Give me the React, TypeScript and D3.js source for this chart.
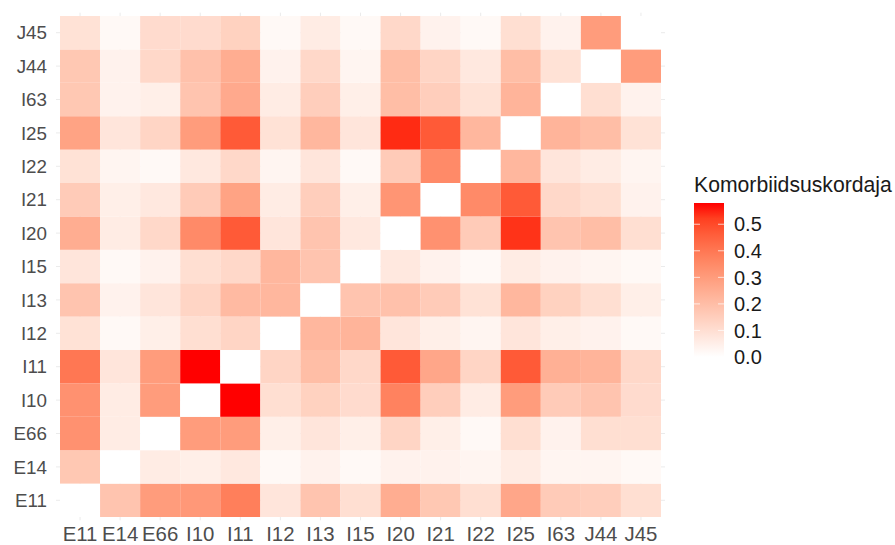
import React from "react";
import * as d3 from "d3";

// Diagnosis codes, used for both axes (x left→right, y bottom→top)
const codes = ["E11", "E14", "E66", "I10", "I11", "I12", "I13", "I15", "I20", "I21", "I22", "I25", "I63", "J44", "J45"];

// Comorbidity rates: one row per y-code, columns in the order of `codes`
const rowE11 = [0, 0.18, 0.3, 0.31, 0.38, 0.08, 0.18, 0.1, 0.25, 0.17, 0.1, 0.27, 0.16, 0.15, 0.1];
const rowE14 = [0.17, 0, 0.06, 0.05, 0.07, 0.02, 0.04, 0.02, 0.04, 0.04, 0.03, 0.06, 0.03, 0.03, 0.02];
const rowE66 = [0.33, 0.06, 0, 0.3, 0.3, 0.05, 0.08, 0.05, 0.13, 0.05, 0.02, 0.1, 0.04, 0.1, 0.1];
const rowI10 = [0.33, 0.06, 0.3, 0, 0.58, 0.1, 0.14, 0.11, 0.37, 0.15, 0.06, 0.3, 0.16, 0.18, 0.11];
const rowI11 = [0.4, 0.08, 0.3, 0.58, 0, 0.13, 0.2, 0.12, 0.47, 0.27, 0.13, 0.47, 0.24, 0.23, 0.12];
const rowI12 = [0.09, 0.02, 0.05, 0.1, 0.13, 0, 0.22, 0.23, 0.08, 0.05, 0.03, 0.08, 0.05, 0.04, 0.02];
const rowI13 = [0.18, 0.04, 0.08, 0.13, 0.21, 0.22, 0, 0.18, 0.19, 0.16, 0.09, 0.22, 0.14, 0.1, 0.05];
const rowI15 = [0.08, 0.02, 0.04, 0.1, 0.12, 0.22, 0.18, 0, 0.07, 0.04, 0.02, 0.06, 0.04, 0.03, 0.02];
const rowI20 = [0.25, 0.06, 0.12, 0.35, 0.47, 0.08, 0.18, 0.07, 0, 0.33, 0.16, 0.54, 0.18, 0.2, 0.1];
const rowI21 = [0.16, 0.05, 0.07, 0.16, 0.28, 0.06, 0.15, 0.05, 0.32, 0, 0.35, 0.47, 0.12, 0.1, 0.04];
const rowI22 = [0.09, 0.03, 0.02, 0.07, 0.12, 0.03, 0.08, 0.02, 0.16, 0.35, 0, 0.22, 0.08, 0.06, 0.03];
const rowI25 = [0.28, 0.08, 0.13, 0.3, 0.47, 0.09, 0.22, 0.08, 0.55, 0.47, 0.22, 0, 0.23, 0.2, 0.09];
const rowI63 = [0.17, 0.04, 0.05, 0.18, 0.26, 0.06, 0.15, 0.05, 0.2, 0.15, 0.09, 0.23, 0, 0.1, 0.04];
const rowJ44 = [0.17, 0.04, 0.12, 0.19, 0.25, 0.04, 0.12, 0.03, 0.2, 0.13, 0.07, 0.2, 0.09, 0, 0.3];
const rowJ45 = [0.09, 0.02, 0.11, 0.11, 0.14, 0.02, 0.06, 0.02, 0.12, 0.04, 0.02, 0.1, 0.04, 0.3, 0];

const rates = [rowE11, rowE14, rowE66, rowI10, rowI11, rowI12, rowI13, rowI15, rowI20, rowI21, rowI22, rowI25, rowI63, rowJ44, rowJ45];

const legendTicks = [0, 0.1, 0.2, 0.3, 0.4, 0.5];
const legendTitle = "Komorbiidsuskordaja";

const W = 895;
const H = 545;
const FONT = "'Liberation Sans', Arial, sans-serif";

export default function App() {
  const cells = rates.flatMap((row, yi) =>
    row.map((v, xi) => ({ x: codes[xi], y: codes[yi], v }))
  );
  const maxV = d3.max(cells, (c) => c.v) as number;

  // Tile area plus a small discrete expansion on each side
  const tileL = 60, tileR = 661, tileT = 16, tileB = 517;
  const x = d3.scaleBand<string>().domain(codes).range([tileL, tileR]);
  const y = d3.scaleBand<string>().domain(codes).range([tileB, tileT]);
  const padX = x.bandwidth() * 0.1;
  const padY = y.bandwidth() * 0.1;

  const color = d3
    .scaleLinear<string>()
    .domain([0, maxV])
    .range(["#ffffff", "#ff0000"])
    .interpolate(d3.interpolateLab);

  // Legend colour bar
  const barX = 694, barW = 30, barBottom = 357, barTop = 203;
  const legendScale = d3.scaleLinear().domain([0, maxV]).range([barBottom, barTop]);

  const stops = d3.range(0, 11).map((i) => i / 10);

  return (
    <svg width={W} height={H} style={{ position: "absolute", left: 0, top: 0 }}>
      <defs>
        <linearGradient id="bar" x1="0" y1="1" x2="0" y2="0">
          {stops.map((s) => (
            <stop key={s} offset={s} stopColor={color(s * maxV)} />
          ))}
        </linearGradient>
      </defs>
      <rect width={W} height={H} fill="#ffffff" />

      {/* major grid lines */}
      {codes.map((c) => (
        <line key={"gx" + c} x1={x(c)! + x.bandwidth() / 2} x2={x(c)! + x.bandwidth() / 2}
          y1={tileT - padY} y2={tileB + padY} stroke="#ebebeb" strokeWidth={1} />
      ))}
      {codes.map((c) => (
        <line key={"gy" + c} y1={y(c)! + y.bandwidth() / 2} y2={y(c)! + y.bandwidth() / 2}
          x1={tileL - padX} x2={tileR + padX} stroke="#ebebeb" strokeWidth={1} />
      ))}

      {/* tiles */}
      {cells.map((c) => (
        <rect key={c.x + c.y} x={x(c.x)} y={y(c.y)} width={x.bandwidth()} height={y.bandwidth()}
          fill={color(c.v)} />
      ))}

      {/* axis labels */}
      {codes.map((c) => (
        <text key={"xl" + c} x={x(c)! + x.bandwidth() / 2} y={541} textAnchor="middle"
          fontFamily={FONT} fontSize={20.4} fill="#4d4d4d">{c}</text>
      ))}
      {codes.map((c) => (
        <text key={"yl" + c} x={47} y={y(c)! + y.bandwidth() / 2} dy="0.36em" textAnchor="end"
          fontFamily={FONT} fontSize={18.8} fill="#4d4d4d">{c}</text>
      ))}

      {/* legend */}
      <text x={barX} y={192} fontFamily={FONT} fontSize={21.2} fill="#1a1a1a">{legendTitle}</text>
      <rect x={barX} y={barTop} width={barW} height={barBottom - barTop} fill="url(#bar)" />
      {legendTicks.map((t) => (
        <g key={"lt" + t}>
          <line x1={barX} x2={barX + 6} y1={legendScale(t)} y2={legendScale(t)} stroke="#ffffff" strokeOpacity={0.7} />
          <line x1={barX + barW - 6} x2={barX + barW} y1={legendScale(t)} y2={legendScale(t)} stroke="#ffffff" strokeOpacity={0.7} />
          <text x={734} y={legendScale(t)} dy="0.36em" fontFamily={FONT} fontSize={20} fill="#1a1a1a">
            {t.toFixed(1)}
          </text>
        </g>
      ))}
    </svg>
  );
}
